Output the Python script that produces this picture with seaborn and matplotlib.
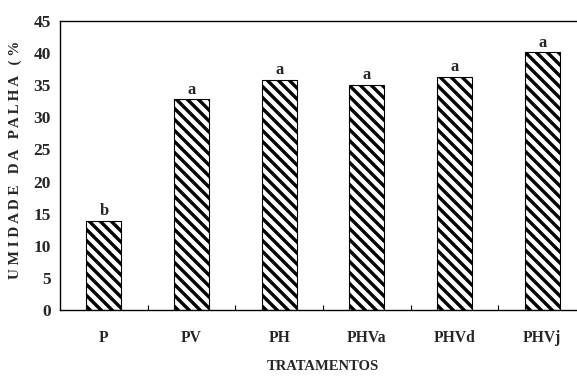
import matplotlib
matplotlib.use("Agg")
import matplotlib.pyplot as plt
import numpy as np
import pandas as pd
import seaborn as sns
from matplotlib.ticker import FixedLocator

# data
tratamentos = ["P", "PV", "PH", "PHVa", "PHVd", "PHVj"]
umidade = [13.9, 32.8, 35.8, 35.1, 36.3, 40.1]
letras = ["b", "a", "a", "a", "a", "a"]

DPI = 66
sns.set_style("white")
plt.rcParams["font.family"] = ["Liberation Serif", "DejaVu Serif"]
plt.rcParams["font.weight"] = "bold"
plt.rcParams["hatch.linewidth"] = 3.7
plt.rcParams["hatch.color"] = "black"

df = pd.DataFrame({"trat": tratamentos, "umid": umidade})

fig = plt.figure(figsize=(577 / DPI, 381 / DPI), dpi=DPI)
ax = fig.add_axes([60 / 577, 1 - 310 / 381, 526 / 577, 289 / 381])

sns.barplot(data=df, x="trat", y="umid", color="white", width=0.4,
            edgecolor="black", linewidth=1.2, ax=ax)
for p in ax.patches:
    p.set_hatch("\\\\")
    p.set_facecolor("white")

for i, (v, l) in enumerate(zip(umidade, letras)):
    ax.annotate(l, (i, v), xytext=(0, 2), textcoords="offset points",
                ha="center", va="bottom", fontsize=18, fontweight="bold")

ax.set_xlim(-0.5, 5.5)
ax.set_ylim(0, 45)
ax.set_yticks(np.arange(0, 46, 5))
ax.tick_params(axis="y", length=0, pad=10, labelsize=19)
ax.tick_params(axis="x", which="major", length=0, pad=22, labelsize=17)
ax.xaxis.set_minor_locator(FixedLocator([0.5, 1.5, 2.5, 3.5, 4.5]))
ax.tick_params(axis="x", which="minor", direction="in", length=5, width=1.2,
               bottom=True, color="black")
for t in ax.get_xticklabels() + ax.get_yticklabels():
    t.set_fontweight("bold")

for s in ["left", "bottom", "top"]:
    ax.spines[s].set_visible(True)
    ax.spines[s].set_color("black")
    ax.spines[s].set_linewidth(1.5)
ax.spines["right"].set_visible(False)

ax.set_xlabel("TRATAMENTOS", fontsize=16, fontweight="bold")
ax.xaxis.set_label_coords(0.5, -0.172)
ax.set_ylabel("U M I D A D E   D A   P A L H A   ( %", fontsize=16.5,
              fontweight="bold")
ax.yaxis.set_label_coords(-0.072, 0.52)

fig.savefig("out.png", dpi=DPI)
